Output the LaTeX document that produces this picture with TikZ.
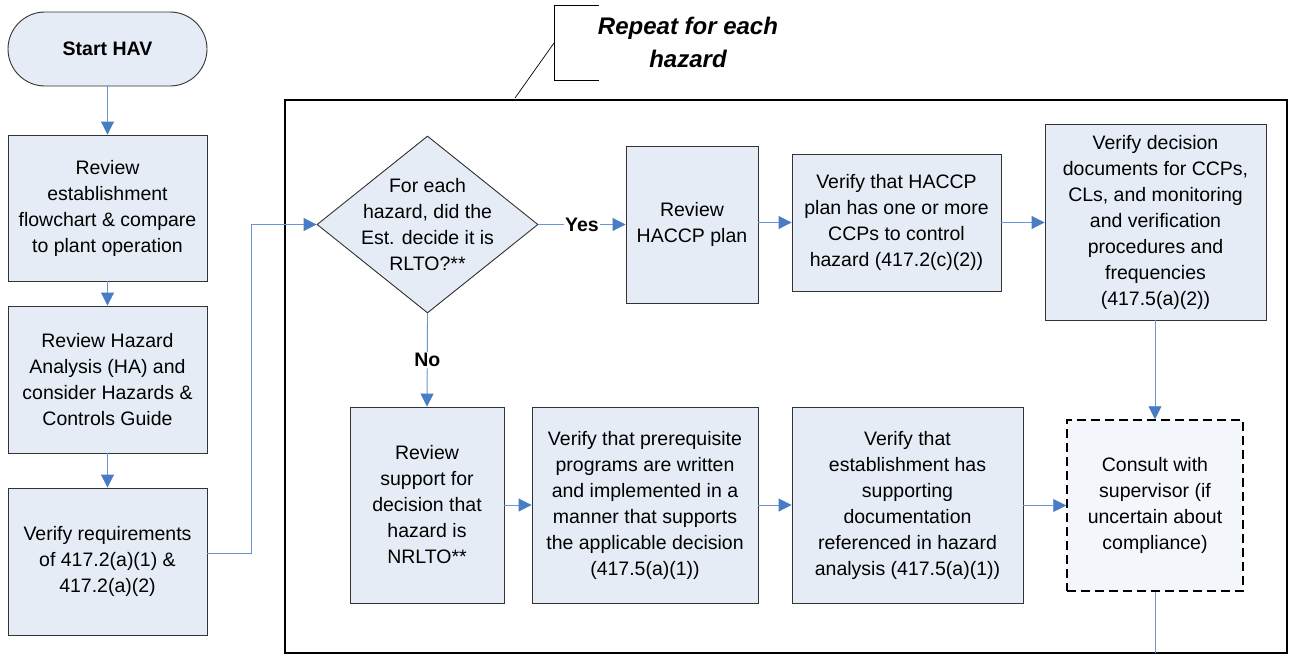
\documentclass[tikz,border=0pt]{standalone}
\usepackage{fontspec}
\setmainfont{Liberation Sans}
\usetikzlibrary{arrows.meta,shapes.geometric}
\definecolor{boxfill}{HTML}{E6ECF6}
\definecolor{lightfill}{HTML}{F3F6FB}
\definecolor{linecol}{HTML}{6A95D3}
\definecolor{arrowcol}{HTML}{4A7CC4}
\definecolor{edgecol}{HTML}{333333}
\begin{document}
\begin{tikzpicture}[x=1pt,y=-1pt,
  every node/.style={font=\fontsize{19.5}{26}\selectfont},
  box/.style={draw=edgecol, line width=0.9pt, fill=boxfill, align=center, inner sep=2pt},
  txt/.style={align=center, inner sep=0pt},
  conn/.style={draw=linecol, line width=0.9pt},
  arr/.style={conn, -{Triangle[length=13pt,width=13pt,color=arrowcol]}},
  lbl/.style={fill=white, inner sep=1pt, font=\fontsize{19.5}{26}\selectfont\bfseries}]
\useasboundingbox (0,0) rectangle (1291,656);

% frame and callout
\draw[line width=1.6pt, black] (285,100) rectangle (1287,653);
\draw[line width=0.7pt] (599,5) -- (554,5) -- (554,80) -- (599,80);
\draw[line width=0.7pt] (554,43) -- (515,98);
\node[txt, font=\fontsize{24}{33}\selectfont\bfseries\itshape] (rep) at (688,42) {Repeat for each\\hazard};

% left column
\node[box, rounded corners=37pt, minimum width=199pt, minimum height=74pt, font=\fontsize{19.5}{26}\selectfont\bfseries] (start) at (107.5,49) {Start HAV};
\node[box, minimum width=199pt, minimum height=146pt] (b1) at (107.5,208) {Review\\establishment\\flowchart \& compare\\to plant operation};
\node[box, minimum width=199pt, minimum height=147pt] (b2) at (107.5,379.5) {Review Hazard\\Analysis (HA) and\\consider Hazards \&\\Controls Guide};
\node[box, minimum width=199pt, minimum height=147pt] (b3) at (107.5,561.5) {Verify requirements\\of 417.2(a)(1) \&\\417.2(a)(2)};

% decision
\node[diamond, draw=edgecol, line width=0.9pt, fill=boxfill, minimum width=221pt, minimum height=177pt, inner sep=0pt] (dec) at (427.5,224.5) {};
\node[txt] (dect) at (dec) {For each\\hazard, did the\\Est. decide it is\\RLTO?**};

% top row
\node[box, minimum width=132pt, minimum height=157pt] (haccp) at (692,224.5) {Review\\HACCP plan};
\node[box, minimum width=209pt, minimum height=137pt] (ccp) at (896.5,222.5) {Verify that HACCP\\plan has one or more\\CCPs to control\\hazard (417.2(c)(2))};
\node[box, minimum width=221pt, minimum height=196pt] (docs) at (1155.5,222) {Verify decision\\documents for CCPs,\\CLs, and monitoring\\and verification\\procedures and\\frequencies\\(417.5(a)(2))};

% bottom row
\node[box, minimum width=154pt, minimum height=196pt] (support) at (427,505) {Review\\support for\\decision that\\hazard is\\NRLTO**};
\node[box, minimum width=226pt, minimum height=196pt] (prereq) at (645,505) {Verify that prerequisite\\programs are written\\and implemented in a\\manner that supports\\the applicable decision\\(417.5(a)(1))};
\node[box, minimum width=231pt, minimum height=196pt] (estab) at (907.5,505) {Verify that\\establishment has\\supporting\\documentation\\referenced in hazard\\analysis (417.5(a)(1))};
\node[box, dashed, dash pattern=on 9pt off 5pt, line width=1.5pt, draw=black, fill=lightfill, minimum width=176pt, minimum height=171pt] (consult) at (1155,505.5) {Consult with\\supervisor (if\\uncertain about\\compliance)};

% connectors
\draw[arr] (start) -- (b1);
\draw[arr] (b1) -- (b2);
\draw[arr] (b2) -- (b3);
\coordinate (j) at (251,224.5);
\draw[arr] ([yshift=8pt]b3.east) -| (j) -- (dec.west);
\draw[arr] (dec.east) -- node[lbl] (yes) {Yes} (haccp.west);
\draw[arr] (dec.south) -- node[lbl] (no) {No} (support.north);
\draw[arr] (haccp.east |- ccp.west) -- (ccp.west);
\draw[arr] (ccp.east) -- (ccp.east -| docs.west);
\draw[arr] (docs.south -| consult.north) -- (consult.north);
\draw[arr] (support) -- (prereq);
\draw[arr] (prereq) -- (estab);
\draw[arr] (estab.east |- consult.west) -- (consult.west);
\coordinate (bot) at (1155,653);
\draw[conn] (consult.south) -- (bot);
\end{tikzpicture}
\end{document}
